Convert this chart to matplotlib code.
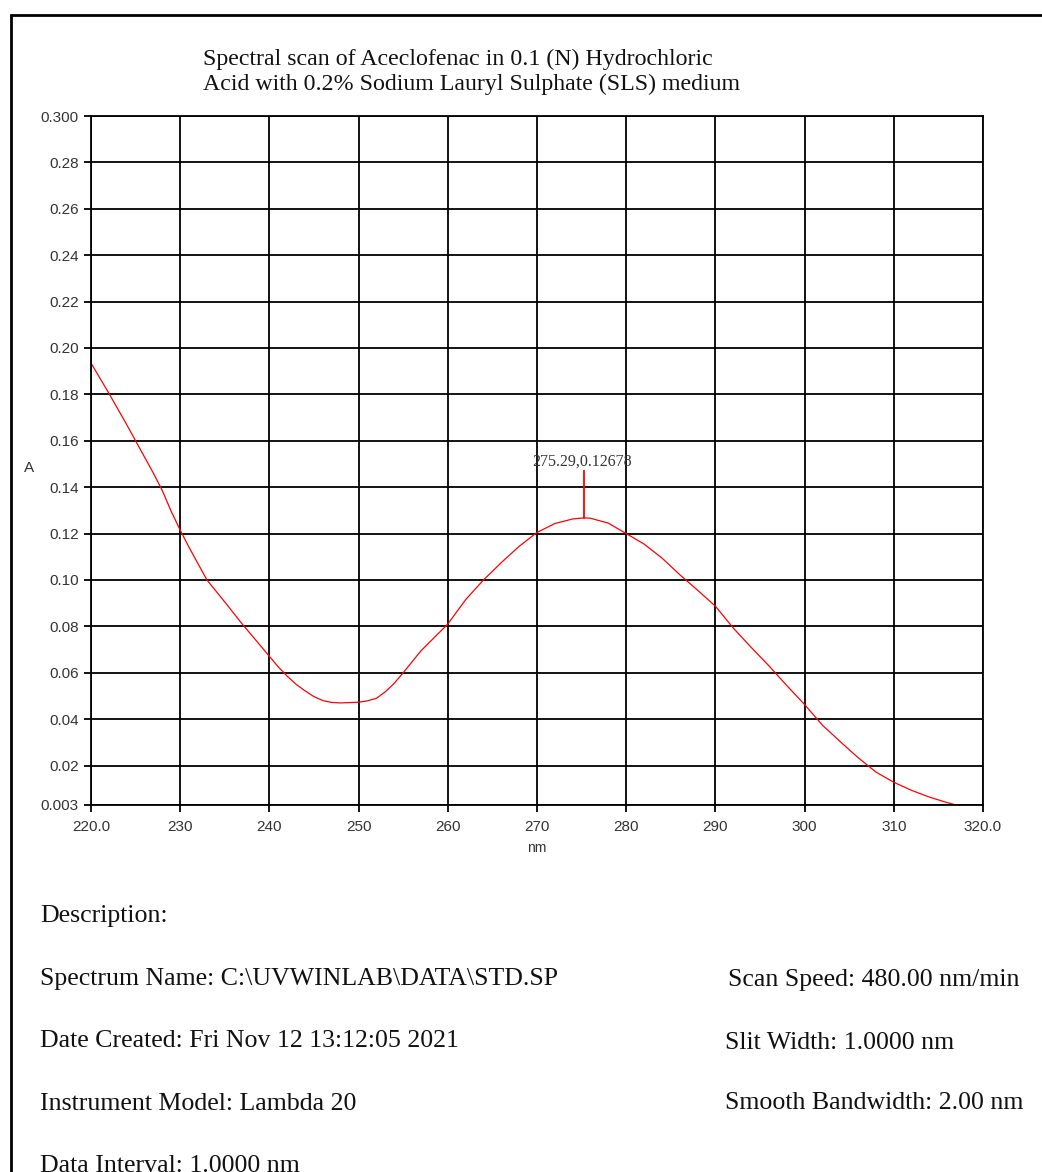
import matplotlib
matplotlib.use("Agg")
import matplotlib.pyplot as plt
import matplotlib.patches as patches
import numpy as np

# spectrum (nm, absorbance)
wavelength = [220, 222, 224, 225, 226, 227, 228, 229, 230, 231, 233, 235, 237,
              240, 241, 242, 243, 244, 245, 246, 247, 248, 250, 251, 252, 253,
              254, 255, 257, 260, 262, 264, 266, 268, 270, 272, 274, 275.29,
              276, 278, 280, 282, 284, 286, 288, 290, 292, 294, 296, 298, 300,
              302, 304, 306, 308, 310, 312, 314, 316, 317]
absorbance = [0.1935, 0.1805, 0.1670, 0.1600, 0.1530, 0.1460, 0.1385, 0.1295,
              0.1215, 0.1140, 0.1000, 0.0905, 0.0808, 0.0671, 0.0625, 0.0585,
              0.0550, 0.0522, 0.0497, 0.0480, 0.0472, 0.0470, 0.0473, 0.0479,
              0.0490, 0.0518, 0.0555, 0.0600, 0.0695, 0.0810, 0.0915, 0.1000,
              0.1075, 0.1145, 0.1205, 0.1243, 0.1263, 0.12678, 0.1266, 0.1245,
              0.1200, 0.1155, 0.1095, 0.1023, 0.0956, 0.0887, 0.0793, 0.0710,
              0.0630, 0.0545, 0.0463, 0.0374, 0.0303, 0.0234, 0.0172, 0.0128,
              0.0093, 0.0064, 0.0040, 0.0030]

peak_nm = 275.29
peak_abs = 0.12678

xticks = [220, 230, 240, 250, 260, 270, 280, 290, 300, 310, 320]
xticklabels = ["220.0", "230", "240", "250", "260", "270", "280", "290",
               "300", "310", "320.0"]
yticks = [0.003, 0.02, 0.04, 0.06, 0.08, 0.10, 0.12, 0.14, 0.16, 0.18, 0.20,
          0.22, 0.24, 0.26, 0.28, 0.300]
yticklabels = ["0.003", "0.02", "0.04", "0.06", "0.08", "0.10", "0.12", "0.14",
               "0.16", "0.18", "0.20", "0.22", "0.24", "0.26", "0.28", "0.300"]

title_lines = ["Spectral scan of Aceclofenac in 0.1 (N) Hydrochloric",
               "Acid with 0.2% Sodium Lauryl Sulphate (SLS) medium"]
left_info = ["Description:",
             "Spectrum Name: C:\\UVWINLAB\\DATA\\STD.SP",
             "Date Created: Fri Nov 12 13:12:05 2021",
             "Instrument Model: Lambda 20",
             "Data Interval: 1.0000 nm"]
right_info = ["Scan Speed: 480.00 nm/min",
              "Slit Width: 1.0000 nm",
              "Smooth Bandwidth: 2.00 nm"]

W, H = 1042, 1172
serif = "Liberation Serif"
sans = "Liberation Sans"

fig = plt.figure(figsize=(W / 100, H / 100), dpi=100)

# page frame (runs off right and bottom edges)
fig.patches.append(patches.Rectangle((11 / W, -0.1), 1.2, 1 - 15 / H + 0.1,
                                     transform=fig.transFigure, fill=False,
                                     edgecolor="black", linewidth=2.0))

ax = fig.add_axes([91 / W, 1 - 805 / H, (983 - 91) / W, (805 - 116) / H])
ax.plot(wavelength, absorbance, color="red", linewidth=0.9)
ax.plot([peak_nm, peak_nm], [peak_abs, 0.147], color="red", linewidth=1.3)
ax.text(275.0, 0.1512, "%.2f,%.5f" % (peak_nm, peak_abs), ha="center",
        va="center", fontsize=11.5, family=serif, color="#333333")

ax.set_xlim(220, 320)
ax.set_ylim(0.003, 0.300)
ax.set_xticks(xticks)
ax.set_xticklabels(xticklabels, family=sans, fontsize=11, color="#333333")
ax.set_yticks(yticks)
ax.set_yticklabels(yticklabels, family=sans, fontsize=11, color="#333333")
ax.tick_params(length=5, width=1.3, color="black")
ax.tick_params(axis="y", pad=4)
ax.tick_params(axis="x", pad=6)
ax.grid(True, color="black", linewidth=1.3)
for s in ax.spines.values():
    s.set_linewidth(1.3)
ax.set_xlabel("nm", family=sans, fontsize=10, color="#333333", labelpad=5)
fig.text(29 / W, 1 - 468 / H, "A", family=sans, fontsize=11,
         color="#333333", ha="center", va="center")

for i, line in enumerate(title_lines):
    fig.text(203 / W, 1 - (59 + 25.5 * i) / H, line, family=serif,
             fontsize=17.2, ha="left", va="center", color="#111111")

for i, line in enumerate(left_info):
    fig.text(40 / W, 1 - (916 + 62.5 * i) / H, line, family=serif,
             fontsize=18.6, ha="left", va="center", color="#111111")
right_x = [728, 725, 725]
right_y = [980, 1043, 1103]
for line, x, y in zip(right_info, right_x, right_y):
    fig.text(x / W, 1 - y / H, line, family=serif, fontsize=18.6,
             ha="left", va="center", color="#111111")

fig.savefig("out.png", dpi=100)
